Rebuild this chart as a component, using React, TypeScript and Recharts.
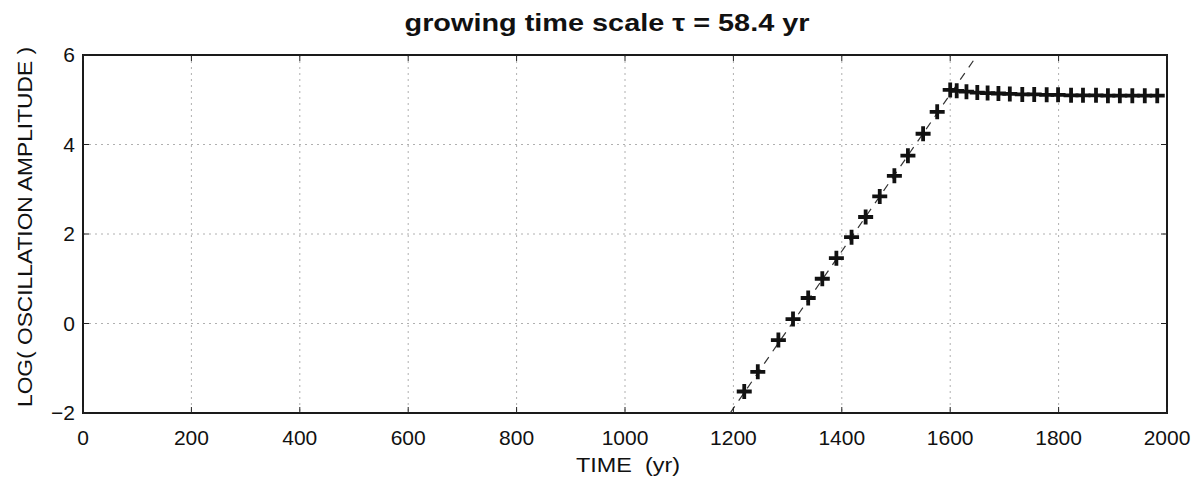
import { ComposedChart, Scatter, Line, XAxis, YAxis, CartesianGrid, ReferenceArea } from 'recharts'

// years / log amplitudes
const riseYears = [1220, 1245, 1283, 1310, 1338, 1364, 1390, 1418, 1444, 1470, 1497, 1522, 1550, 1576]
const riseAmp = [-1.52, -1.08, -0.37, 0.1, 0.57, 1.0, 1.46, 1.93, 2.38, 2.84, 3.3, 3.75, 4.24, 4.73]

const flatYears = [1600, 1612, 1630, 1650, 1669, 1689, 1710, 1733, 1755, 1778, 1799, 1823, 1845, 1869, 1891, 1913, 1936, 1959, 1982]
const flatAmp = [5.22, 5.2, 5.18, 5.16, 5.15, 5.14, 5.13, 5.12, 5.12, 5.11, 5.11, 5.1, 5.1, 5.1, 5.09, 5.09, 5.09, 5.09, 5.09]

// fitted growth line (dashed)
const fitYears = [1194, 1650]
const fitAmp = [-2, 6]

const xTicks = [0, 200, 400, 600, 800, 1000, 1200, 1400, 1600, 1800, 2000]
const yTicks = [-2, 0, 2, 4, 6]

const title = 'growing time scale \u03c4 = 58.4 yr'
const xLabel = 'TIME\u00a0\u00a0(yr)'
const yLabel = 'LOG( OSCILLATION AMPLITUDE )'

const W = 1196
const H = 478
const PLOT_LEFT = 83
const PLOT_RIGHT = 1167
const PLOT_TOP = 55
const PLOT_BOTTOM = 413
const FONT = '"Liberation Sans", Arial, Helvetica, sans-serif'

const toPoints = (xs: number[], ys: number[]) => xs.map((year, i) => ({ year, amp: ys[i] }))

const risePoints = toPoints(riseYears, riseAmp)
const flatPoints = toPoints(flatYears, flatAmp)
const fitPoints = toPoints(fitYears, fitAmp)

function Plus(props: any) {
  const { cx, cy } = props
  if (cx == null || cy == null) return null
  return (
    <path
      d={`M${cx - 7.5},${cy}H${cx + 7.5}M${cx},${cy - 7.5}V${cy + 7.5}`}
      stroke="#111"
      strokeWidth={3.8}
      fill="none"
    />
  )
}

function XTick(props: any) {
  const { x, payload } = props
  return (
    <g>
      <line x1={x} x2={x} y1={PLOT_BOTTOM} y2={PLOT_BOTTOM - 6} stroke="#222" />
      <line x1={x} x2={x} y1={PLOT_TOP} y2={PLOT_TOP + 6} stroke="#222" />
      <text x={x} y={PLOT_BOTTOM + 32} textAnchor="middle" fontSize={21} fontFamily={FONT} fill="#111">
        {payload.value}
      </text>
    </g>
  )
}

function YTick(props: any) {
  const { y, payload } = props
  const v = payload.value < 0 ? '\u2212' + Math.abs(payload.value) : String(payload.value)
  return (
    <g>
      <line x1={PLOT_LEFT} x2={PLOT_LEFT + 6} y1={y} y2={y} stroke="#222" />
      <line x1={PLOT_RIGHT} x2={PLOT_RIGHT - 6} y1={y} y2={y} stroke="#222" />
      <text x={PLOT_LEFT - 8} y={y + 7} textAnchor="end" fontSize={21} fontFamily={FONT} fill="#111">
        {v}
      </text>
    </g>
  )
}

export default function App() {
  return (
    <div style={{ position: 'absolute', left: 0, top: 0, width: W, height: H, background: '#fff' }}>
      <ComposedChart
        width={W}
        height={H}
        margin={{ top: PLOT_TOP, right: W - PLOT_RIGHT, bottom: 0, left: 0 }}
      >
        <CartesianGrid stroke="#b0b0b0" strokeDasharray="2 4" horizontalValues={yTicks} verticalValues={xTicks} />
        <XAxis
          type="number"
          dataKey="year"
          domain={[0, 2000]}
          ticks={xTicks}
          interval={0}
          height={H - PLOT_BOTTOM}
          axisLine={false}
          tickLine={false}
          tick={<XTick />}
          allowDataOverflow
        />
        <YAxis
          type="number"
          dataKey="amp"
          domain={[-2, 6]}
          ticks={yTicks}
          interval={0}
          width={PLOT_LEFT}
          axisLine={false}
          tickLine={false}
          tick={<YTick />}
          allowDataOverflow
        />
        <ReferenceArea x1={0} x2={2000} y1={-2} y2={6} fill="none" fillOpacity={0} stroke="#1a1a1a" strokeWidth={2} />
        <Line
          data={fitPoints}
          dataKey="amp"
          type="linear"
          stroke="#333"
          strokeWidth={1.2}
          strokeDasharray="8 7"
          dot={false}
          activeDot={false}
          isAnimationActive={false}
        />
        <Scatter data={risePoints} shape={<Plus />} isAnimationActive={false} />
        <Scatter data={flatPoints} shape={<Plus />} isAnimationActive={false} />
      </ComposedChart>
      <svg
        width={W}
        height={H}
        style={{ position: 'absolute', left: 0, top: 0, pointerEvents: 'none' }}
      >
        <text x={607} y={31} textAnchor="middle" fontSize={24} fontWeight="bold" fontFamily={FONT} fill="#111"
          textLength={405} lengthAdjust="spacingAndGlyphs">
          {title}
        </text>
        <text x={628} y={472} textAnchor="middle" fontSize={20} fontFamily={FONT} fill="#111"
          textLength={104} lengthAdjust="spacingAndGlyphs">
          {xLabel}
        </text>
        <text x={24} y={227} textAnchor="middle" dominantBaseline="central" fontSize={21} fontFamily={FONT} fill="#111"
          transform="rotate(-90 24 227)" textLength={360} lengthAdjust="spacingAndGlyphs">
          {yLabel}
        </text>
      </svg>
    </div>
  )
}
